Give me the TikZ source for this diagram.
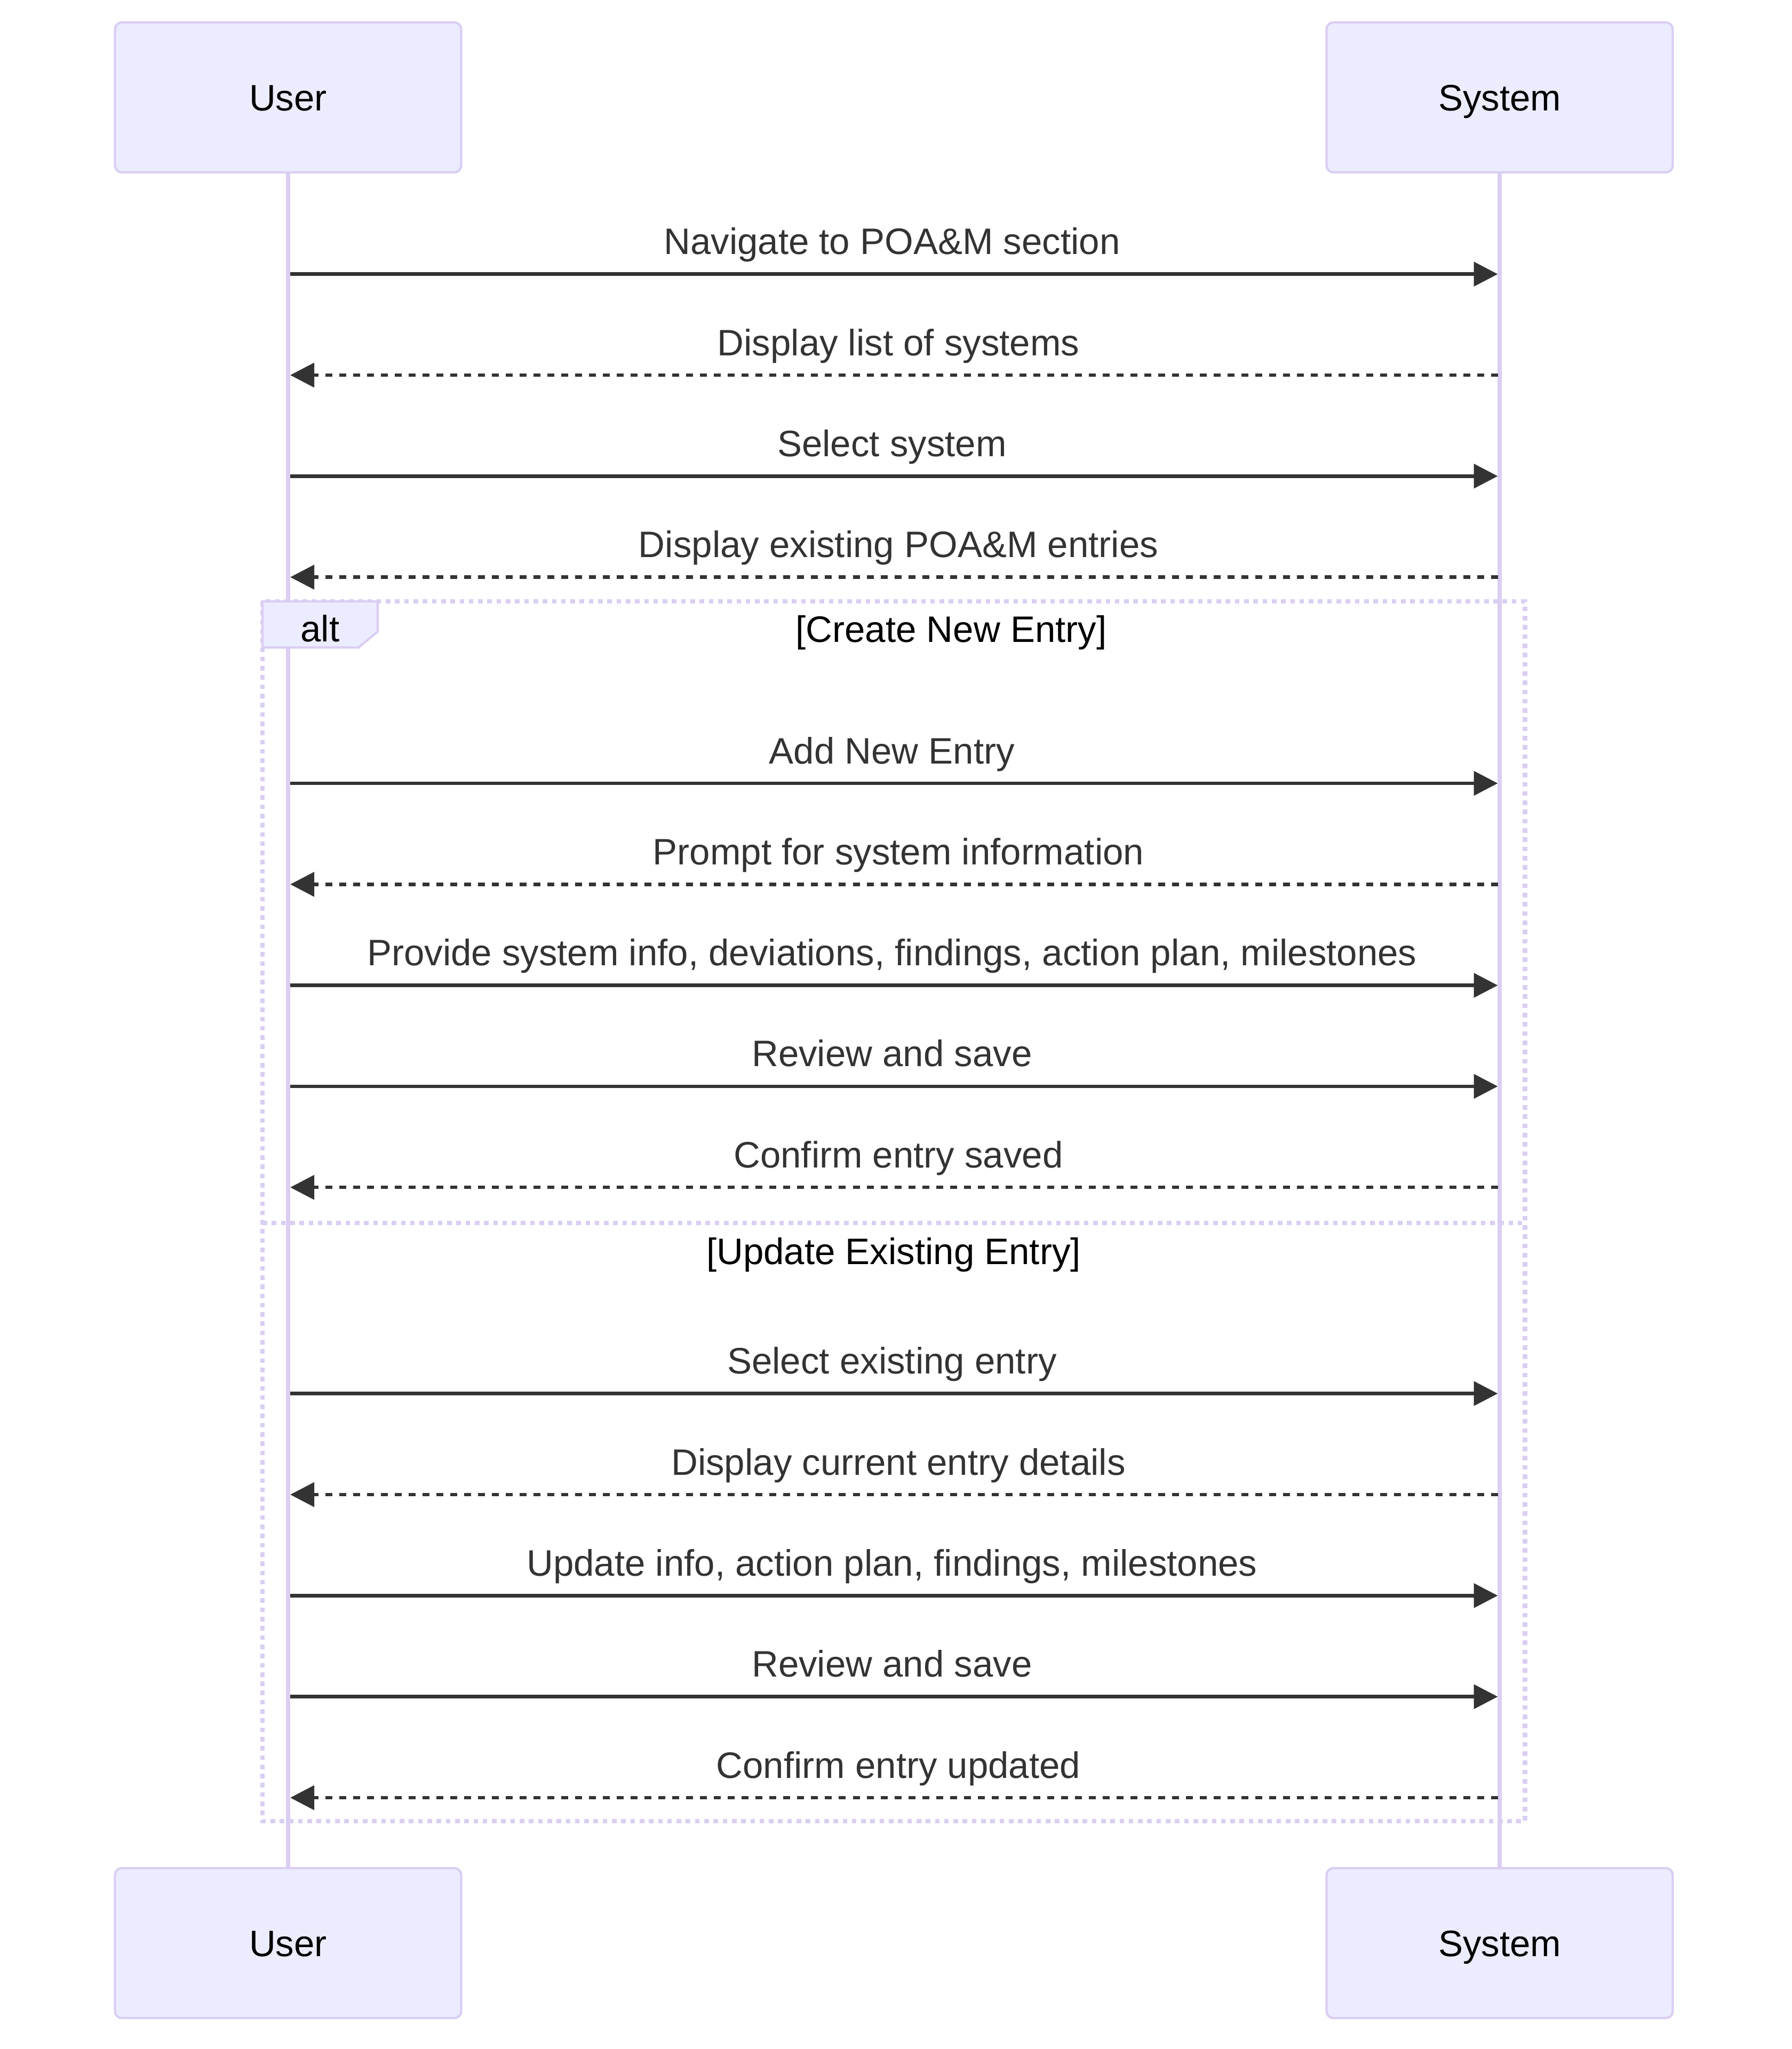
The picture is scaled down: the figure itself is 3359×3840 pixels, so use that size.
\documentclass[tikz,border=0pt]{standalone}
\usepackage{fontspec}
\setmainfont{Liberation Sans}
\usetikzlibrary{arrows.meta}
\definecolor{actorFill}{HTML}{ECECFF}
\definecolor{actorLine}{HTML}{DACEF3}
\definecolor{msgGray}{HTML}{333333}
\begin{document}
\begin{tikzpicture}[x=0.2pt,y=-0.2pt,
  txt/.style={font=\fontsize{13.8}{16}\selectfont},
  actorbox/.style={txt, draw=actorLine, fill=actorFill, line width=0.87pt, rounded corners=2.6pt,
    minimum width=129.8pt, minimum height=56.2pt, inner sep=0pt, text height=10pt, text depth=0pt, text=black},
  lifeline/.style={draw=actorLine, line width=1.5pt},
  msg/.style={draw=msgGray, line width=1.3pt, -{Triangle[length=9pt,width=9pt]}},
  reply/.style={msg, dash pattern=on 2.6pt off 2.6pt},
  msglabel/.style={txt, anchor=base, text=msgGray, inner sep=0pt},
  loopline/.style={draw=actorLine, line width=1.73pt, dash pattern=on 1.73pt off 1.73pt},
  looplabel/.style={draw=actorLine, fill=actorFill, line width=0.87pt},
  looptext/.style={txt, anchor=base, text=black, inner sep=0pt}]
\useasboundingbox (0,0) rectangle (3359,3840);

% actors
\node[actorbox] (uTop) at (540,182.5) {User};
\node[actorbox] (sTop) at (2811,182.5) {System};
\node[actorbox] (uBot) at (540,3641.5) {User};
\node[actorbox] (sBot) at (2811,3641.5) {System};

% lifelines
\draw[lifeline] (uTop.south) -- (uBot.north);
\draw[lifeline] (sTop.south) -- (sBot.north);

% alt frame
\coordinate (altTL) at (492,1127);
\coordinate (altBR) at (2858.5,3413);
\coordinate (divL) at (492,2292);
\coordinate (divR) at (2858.5,2292);
\draw[loopline] (altTL) rectangle (altBR);
\draw[loopline] (divL) -- (divR);
\filldraw[looplabel] (492,1127) -- (708,1127) -- (708,1183.5) -- (672,1213.5) -- (492,1213.5) -- cycle;
\node[looptext] (altLbl) at (600,1202) {alt};
\node[looptext] (cond1) at (1783,1203) {[Create New Entry]};
\node[looptext] (cond2) at (1675,2369) {[Update Existing Entry]};

% message end points
\foreach \n/\y in {1/513.7,2/703,3/892.3,4/1081.6,5/1468,6/1657.3,7/1846.6,8/2035.9,9/2225.2,10/2611.6,11/2801,12/2990.3,13/3179.7,14/3369}{
  \coordinate (u\n) at (544,\y);
  \coordinate (s\n) at (2807.5,\y);
}

% messages
\draw[msg]   (u1) -- (s1);
\node[msglabel] (m1) at (1672,476.7) {Navigate to POA\&M section};
\draw[reply] (s2) -- (u2);
\node[msglabel] (m2) at (1684,666) {Display list of systems};
\draw[msg]   (u3) -- (s3);
\node[msglabel] (m3) at (1672,855.3) {Select system};
\draw[reply] (s4) -- (u4);
\node[msglabel] (m4) at (1684,1044.6) {Display existing POA\&M entries};

\draw[msg]   (u5) -- (s5);
\node[msglabel] (m5) at (1672,1431) {Add New Entry};
\draw[reply] (s6) -- (u6);
\node[msglabel] (m6) at (1684,1620.3) {Prompt for system information};
\draw[msg]   (u7) -- (s7);
\node[msglabel] (m7) at (1672,1809.6) {Provide system info, deviations, findings, action plan, milestones};
\draw[msg]   (u8) -- (s8);
\node[msglabel] (m8) at (1672,1998.9) {Review and save};
\draw[reply] (s9) -- (u9);
\node[msglabel] (m9) at (1684,2188.2) {Confirm entry saved};

\draw[msg]   (u10) -- (s10);
\node[msglabel] (m10) at (1672,2574.6) {Select existing entry};
\draw[reply] (s11) -- (u11);
\node[msglabel] (m11) at (1684,2764) {Display current entry details};
\draw[msg]   (u12) -- (s12);
\node[msglabel] (m12) at (1672,2953.3) {Update info, action plan, findings, milestones};
\draw[msg]   (u13) -- (s13);
\node[msglabel] (m13) at (1672,3142.7) {Review and save};
\draw[reply] (s14) -- (u14);
\node[msglabel] (m14) at (1684,3332) {Confirm entry updated};
\end{tikzpicture}
\end{document}
